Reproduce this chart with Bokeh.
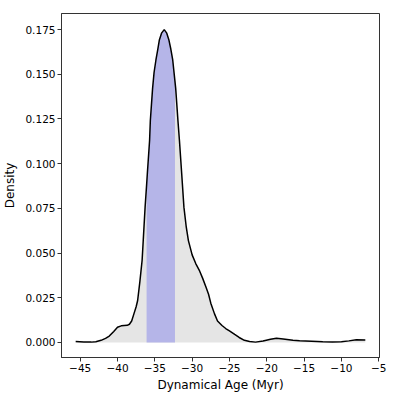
from bokeh.plotting import figure
from bokeh.models import Range1d, FixedTicker, NumeralTickFormatter, CustomJSTickFormatter
from bokeh.embed import file_html
from bokeh.resources import INLINE

age = [-45.6, -44.5, -43.5, -42.9, -42.2, -41.6, -41.1, -40.5, -40.0, -39.5, -39.1, -38.7,
       -38.4, -38.1, -37.8, -37.5, -37.3, -37.0, -36.7, -36.55, -36.3, -36.1, -36.0, -35.7,
       -35.6, -35.3, -35.1, -34.85, -34.6, -34.4, -34.1, -33.74, -33.4, -33.1, -32.85, -32.6,
       -32.3, -32.2, -31.9, -31.7, -31.4, -31.1, -30.8, -30.5, -30.0, -29.5, -29.0,
       -28.6, -28.15, -27.8, -27.5, -27.0, -26.6, -26.0, -25.5, -25.0, -24.3, -23.7, -23.0, -22.3,
       -21.5, -20.5, -19.5, -18.7, -17.8, -16.5, -15.6, -14.0, -12.5, -11.2, -10.0, -9.0,
       -8.0, -6.8]
density = [0.0006, 0.0003, 0.0002, 0.0004, 0.0012, 0.0023, 0.0036, 0.0062, 0.0085, 0.0093, 0.0095, 0.0096,
           0.0102, 0.0120, 0.0160, 0.0200, 0.0235, 0.0340, 0.0460, 0.0570, 0.0757, 0.0880, 0.0945, 0.1130,
           0.1240, 0.1420, 0.1510, 0.1580, 0.1640, 0.1690, 0.1730, 0.1750, 0.1730, 0.1690, 0.1640, 0.1580,
           0.1460, 0.1420, 0.1240, 0.1130, 0.0945, 0.0757, 0.0650, 0.0570, 0.0490, 0.0440, 0.0400,
           0.0360, 0.0310, 0.0270, 0.0220, 0.0160, 0.0120, 0.0095, 0.0078, 0.0065, 0.0045, 0.0028, 0.0012, 0.0005,
           0.0002, 0.0008, 0.0018, 0.0024, 0.0020, 0.0012, 0.0010, 0.0007, 0.0004, 0.0002, 0.0004, 0.0009,
           0.0015, 0.0014]
band_lo, band_hi = -36.1, -32.3
x_ticks = [-45, -40, -35, -30, -25, -20, -15, -10, -5]
y_ticks = [0.0, 0.025, 0.05, 0.075, 0.1, 0.125, 0.15, 0.175]

p = figure(frame_width=318, frame_height=344, output_backend="svg", toolbar_location=None,
           x_range=Range1d(-47.5, -4.9), y_range=Range1d(-0.0084, 0.184),
           min_border_left=60, min_border_right=11, min_border_top=13, min_border_bottom=4)

p.varea(x=age, y1=[0] * len(age), y2=density, fill_color="#e5e5e5")
bx = [a for a in age if band_lo <= a <= band_hi]
by = [d for a, d in zip(age, density) if band_lo <= a <= band_hi]
p.varea(x=bx, y1=[0] * len(bx), y2=by, fill_color="#b5b5e8")
p.line(age, density, line_color="black", line_width=1.5)

p.grid.visible = False
p.outline_line_color = "#333333"
p.outline_line_width = 1
p.background_fill_color = "white"
p.border_fill_color = "white"

for ax in (p.xaxis[0], p.yaxis[0]):
    ax.axis_line_color = "#333333"
    ax.major_tick_line_color = "#333333"
    ax.minor_tick_line_color = None
    ax.major_tick_out = 4
    ax.major_tick_in = 0
    ax.major_label_standoff = 2
    ax.major_label_text_font = "DejaVu Sans"
    ax.major_label_text_font_size = "10.5px"
    ax.major_label_text_color = "black"
    ax.axis_label_text_font = "DejaVu Sans"
    ax.axis_label_text_font_size = "12px"
    ax.axis_label_text_font_style = "normal"
    ax.axis_label_text_color = "black"
p.xaxis[0].axis_label_standoff = 3
p.yaxis[0].axis_label_standoff = 5

p.xaxis.axis_label = "Dynamical Age (Myr)"
p.yaxis.axis_label = "Density"
p.xaxis.ticker = FixedTicker(ticks=x_ticks)
p.yaxis.ticker = FixedTicker(ticks=y_ticks)
p.xaxis.formatter = CustomJSTickFormatter(code="return tick < 0 ? '\u2212' + Math.abs(tick) : String(tick);")
p.yaxis.formatter = NumeralTickFormatter(format="0.000")

open("out.html", "w").write(file_html(p, INLINE))
